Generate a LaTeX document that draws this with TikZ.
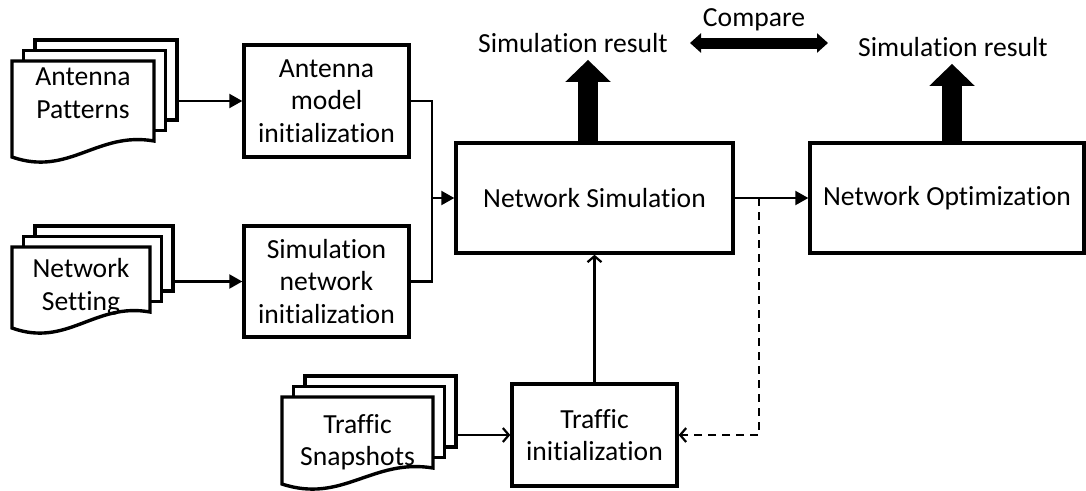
\documentclass[tikz,border=0pt]{standalone}
\usepackage{fontspec}
\setmainfont[Ligatures=NoCommon]{Carlito}
\usetikzlibrary{arrows.meta}
\tikzset{
  box/.style={draw,line width=3.4pt,inner sep=0pt,align=center},
  sheet/.style={draw,fill=white,line width=3.4pt},
  conn/.style={line width=2.2pt,-{Triangle[length=13pt,width=14pt]}},
  openconn/.style={line width=2.2pt,-{Straight Barb[length=6pt,width=14pt]}},
  bigarrow/.style={line width=20pt,-{Triangle[length=22pt,width=44pt]}},
  cmparrow/.style={line width=11pt,{Triangle[length=11pt,width=19pt]}-{Triangle[length=11pt,width=19pt]}},
  result/.style={inner sep=7pt}
}
% stack of three sheets: name, x, y, width, height, text y, text
\newcommand\docstack[7]{%
  \draw[sheet] (#2+23,#3-21) rectangle (#2+#4+23,#3+#5-37) coordinate (#1-r);
  \draw[sheet] (#2+11.5,#3-10.5) rectangle (#2+#4+11.5,#3+#5-26.5);
  \draw[sheet] (#2,#3) -- (#2+#4,#3) -- (#2+#4,#3+#5-16)
    .. controls (#2+0.6*#4,#3+#5-26) and (#2+0.4*#4,#3+#5+20) .. (#2,#3+#5) -- cycle;
  \node[align=center] (#1) at (#2+0.5*#4,#6) {#7};
}
\begin{document}
\begin{tikzpicture}[x=1pt,y=-1pt,font=\fontsize{27.6}{32.5}\selectfont]
\useasboundingbox (0,0) rectangle (1086,490);

\docstack{antpat}{12}{61}{142}{96}{93}{Antenna\\Patterns}
\docstack{netset}{12}{247}{138}{81}{287}{Network\\Setting}
\docstack{trafsnap}{282}{397}{151}{87}{442}{Traffic\\Snapshots}

\node[box,minimum width=165pt,minimum height=112pt] (antmod) at (326.5,101) {Antenna\\model\\initialization};
\node[box,minimum width=165pt,minimum height=111pt] (simnet) at (326.5,281.5) {Simulation\\network\\initialization};
\node[box,minimum width=165pt,minimum height=102pt] (trafini) at (594.5,435) {Traffic\\initialization};
\node[box,minimum width=277pt,minimum height=110pt] (netsim) at (594.5,198) {Network Simulation};
\node[box,minimum width=274pt,minimum height=110pt] (netopt) at (947,198) {Network Optimization};

\node[result] (res1) at (573,43) {Simulation result};
\node[result] (res2) at (953,47) {Simulation result};
\node (cmp) at (754,20) {Compare};

\draw[bigarrow] ([xshift=-6.5pt]netsim.north) -- ([xshift=-6.5pt]netsim.north |- res1.south);
\draw[bigarrow] ([xshift=5pt]netopt.north) -- ([xshift=5pt]netopt.north |- res2.south);
\draw[cmparrow] ([xshift=15pt]res1.east) -- ([xshift=-23pt]res1.east -| res2.west);

\draw[conn] (antmod.west -| antpat-r) -- (antmod.west);
\draw[conn] (simnet.west -| netset-r) -- (simnet.west);
\draw[openconn] (trafini.west -| trafsnap-r) -- (trafini.west);

\coordinate (merge) at (432,198);
\draw[line width=2.2pt] (antmod.east) -| (merge) |- (simnet.east);
\draw[conn] (merge) -- (netsim.west);
\draw[conn] (netsim.east) -- (netopt.west);

\coordinate (fb) at (759,198);
\draw[openconn,dash pattern=on 8pt off 6pt] (fb) |- (trafini.east);
\draw[openconn] (trafini.north) -- (netsim.south);
\end{tikzpicture}
\end{document}
